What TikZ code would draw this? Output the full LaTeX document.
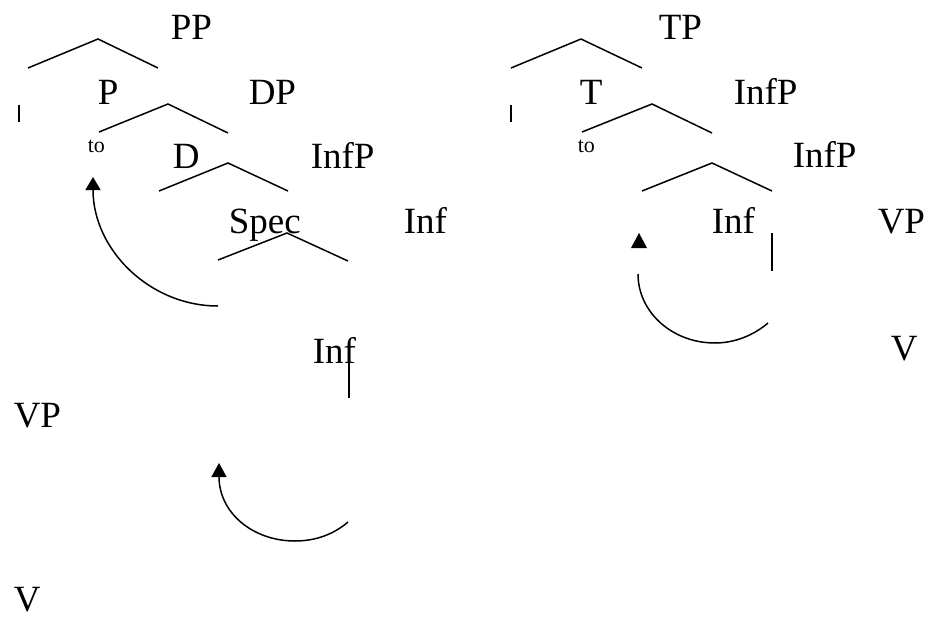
\documentclass[tikz,border=0pt]{standalone}
\usepackage{fontspec}
\setmainfont{Liberation Serif}
\usetikzlibrary{arrows.meta}
\tikzset{every path/.style={black,line width=1.5pt}, cat/.style={anchor=base west, inner sep=0pt, font=\fontsize{37}{44}\selectfont}, small/.style={anchor=base west, inner sep=0pt, font=\fontsize{22}{26}\selectfont}}

\begin{document}
\begin{tikzpicture}[x=1pt,y=-1pt]
   \useasboundingbox (0,0) rectangle (925,618);
   \node[cat] (pp) at (170,40) {PP};
   \node[cat] (p) at (97,104) {P};
   \node[cat] (dp) at (248,104) {DP};
   \node[small] (to1) at (87,152) {to};
   \node[cat] (d) at (172,168) {D};
   \node[cat] (infp1) at (310,168) {InfP};
   \node[cat] (spec) at (228,233) {Spec};
   \node[cat] (inf1) at (403,233) {Inf};
   \node[cat] (inf2) at (312,363) {Inf};
   \node[cat] (vp1) at (13,427) {VP};
   \node[cat] (v1) at (13,611) {V};
   \node[cat] (tp) at (658,40) {TP};
   \node[cat] (t) at (579,104) {T};
   \node[cat] (infp2) at (733,104) {InfP};
   \node[small] (to2) at (577,152) {to};
   \node[cat] (infp3) at (792,167) {InfP};
   \node[cat] (inf3) at (711,233) {Inf};
   \node[cat] (vp2) at (877,233) {VP};
   \node[cat] (v2) at (890,360) {V};
   \draw (28,68) -- (98,39) -- (158,68);
   \draw (99,132) -- (168,104) -- (228,133);
   \draw (159,191) -- (228,163) -- (288,191);
   \draw (218,260) -- (287,233) -- (348,261);
   \draw (511,68) -- (581,39) -- (642,68);
   \draw (582,132) -- (652,104) -- (712,133);
   \draw (642,191) -- (712,163) -- (772,191);
   \draw[line width=1.2pt] (19,105) -- (19,122);
   \draw[line width=1.2pt] (511,105) -- (511,122);
   \draw (349,362) -- (349,398);
   \draw (772,233) -- (772,271);
   \draw[-{Triangle[length=13pt,width=15pt]}]
    (218,306) .. controls (150,306) and (93,250) .. (93,177);
   \draw[-{Triangle[length=14pt,width=15pt]}]
    (348,522) .. controls (334,534) and (316,541) .. (295,541) .. controls (253,541) and (219,513) .. (219,463);
   \draw
    (638,274) .. controls (638,312) and (672,343) .. (715,343) .. controls (735,343) and (754,335) .. (768,323);
   \fill (639,233) -- (631,248) -- (647,248) -- cycle;
  \end{tikzpicture}
\end{document}
